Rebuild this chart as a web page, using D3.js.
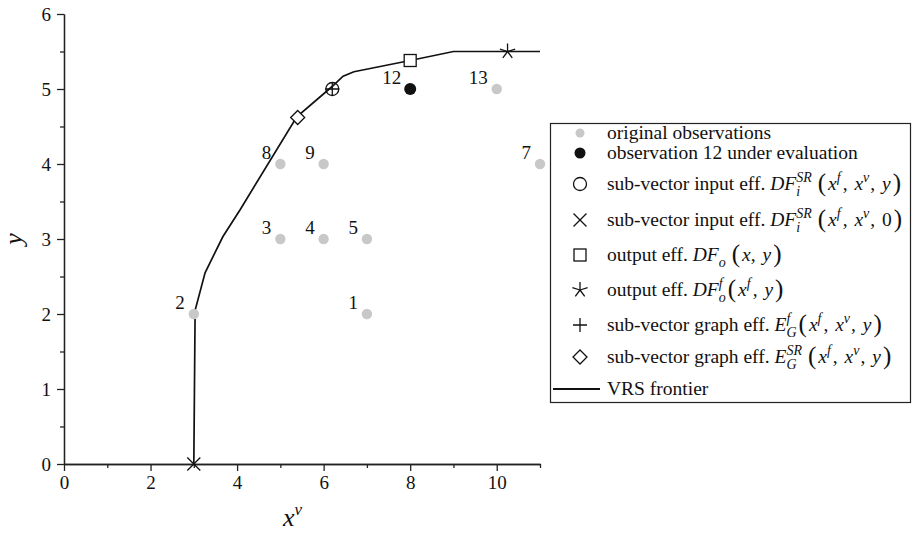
<!DOCTYPE html>
<html><head><meta charset="utf-8">
<script src="https://cdn.jsdelivr.net/npm/d3@7"></script>
<style>
body{margin:0;background:#fff;}
svg text{font-family:"Liberation Serif","Times New Roman",serif !important;fill:#111;white-space:pre;}
</style></head>
<body><svg id="chart" width="913" height="537"></svg>
<script>
// ---- data ----
const obsIds = ['1','2','3','4','5','7','8','9','13'];
const obsX = [7,3,5,6,7,11,5,6,10];
const obsY = [2,2,3,3,3,4,4,4,5];
const evalId = '12', evalX = 8, evalY = 5;
const frontierX = [3,3.03,3.26,3.67,4.07,5.38,6.19,6.45,6.7,8,9,11];
const frontierY = [0,2.05,2.55,3.03,3.39,4.63,5.03,5.17,5.23,5.38,5.5,5.5];
const inputEff = [6.2,5];      // circle
const inputEff0 = [3,0];       // cross
const outputEff = [8,5.38];    // square
const outputEffF = [10.25,5.5];// star
const graphEffF = [6.2,5];     // plus
const graphEffSR = [5.4,4.62]; // diamond
const xTicks = [0,2,4,6,8,10];
const xMinor = [1,3,5,7,9,11];
const yTicks = [0,1,2,3,4,5,6];
const yMinor = [0.5,1.5,2.5,3.5,4.5,5.5];

const svg = d3.select('#chart');
const x = d3.scaleLinear().domain([0,11]).range([64,540]);
const y = d3.scaleLinear().domain([0,6]).range([464,14]);
const fmt = d3.format('d');

// axes
svg.append('g').attr('transform',`translate(0,${y(0)})`)
  .call(d3.axisBottom(x).tickValues(xTicks).tickFormat(fmt).tickSize(7).tickSizeOuter(0).tickPadding(5));
svg.append('g').attr('transform',`translate(0,${y(0)})`)
  .call(d3.axisBottom(x).tickValues(xMinor).tickSize(4).tickSizeOuter(0).tickFormat(''));
svg.append('g').attr('transform',`translate(${x(0)},0)`)
  .call(d3.axisLeft(y).tickValues(yTicks).tickFormat(fmt).tickSize(7).tickSizeOuter(0).tickPadding(6));
svg.append('g').attr('transform',`translate(${x(0)},0)`)
  .call(d3.axisLeft(y).tickValues(yMinor).tickSize(4).tickSizeOuter(0).tickFormat(''));
svg.selectAll('g').attr('font-family',null);
svg.selectAll('.domain, .tick line').attr('stroke','#222').attr('stroke-width',1.3);
svg.selectAll('.tick text').style('font-size','19px').attr('fill','#222');

// axis titles
svg.append('text').attr('x',283).attr('y',526).style('font-size','26px').style('font-style','italic').text('x')
  .append('tspan').attr('dy',-11).style('font-size','17px').text('v');
svg.append('text').attr('transform',`translate(22,${y(3)}) rotate(-90)`).attr('text-anchor','middle')
  .style('font-size','26px').style('font-style','italic').text('y');

// frontier
const line = d3.line().x(d=>x(d[0])).y(d=>y(d[1]));
svg.append('path').datum(frontierX.map((v,i)=>[v,frontierY[i]]))
  .attr('d',line).attr('fill','none').attr('stroke','#111').attr('stroke-width',1.7);

// observations
const obs = obsIds.map((id,i)=>({id,x:obsX[i],y:obsY[i]}));
svg.selectAll('circle.obs').data(obs).enter().append('circle').attr('class','obs')
  .attr('cx',d=>x(d.x)).attr('cy',d=>y(d.y)).attr('r',5.2).attr('fill','#c8c8c8');
svg.selectAll('text.lab').data(obs.concat([{id:evalId,x:evalX,y:evalY}])).enter().append('text').attr('class','lab')
  .attr('x',d=>x(d.x)-9).attr('y',d=>y(d.y)-5).attr('text-anchor','end').style('font-size','19px').text(d=>d.id);
svg.append('circle').attr('cx',x(evalX)).attr('cy',y(evalY)).attr('r',6).attr('fill','#111');

// marker drawers
function mCircle(g,cx,cy){g.append('circle').attr('cx',cx).attr('cy',cy).attr('r',6.5).attr('fill','none').attr('stroke','#111').attr('stroke-width',1.3);}
function mPlus(g,cx,cy){g.append('path').attr('d',`M${cx-7},${cy}H${cx+7}M${cx},${cy-7}V${cy+7}`).attr('stroke','#111').attr('stroke-width',1.3);}
function mCross(g,cx,cy){const s=6.5;g.append('path').attr('d',`M${cx-s},${cy-s}L${cx+s},${cy+s}M${cx-s},${cy+s}L${cx+s},${cy-s}`).attr('stroke','#111').attr('stroke-width',1.3);}
function mSquare(g,cx,cy){g.append('rect').attr('x',cx-6).attr('y',cy-6).attr('width',12).attr('height',12).attr('fill','#fff').attr('stroke','#111').attr('stroke-width',1.3);}
function mDiamond(g,cx,cy){const s=7;g.append('path').attr('d',`M${cx},${cy-s}L${cx+s},${cy}L${cx},${cy+s}L${cx-s},${cy}Z`).attr('fill','#fff').attr('stroke','#111').attr('stroke-width',1.3);}
function mStar(g,cx,cy){const s=8;let d='';for(let k=0;k<5;k++){const a=(-90+72*k)*Math.PI/180;d+=`M${cx},${cy}L${cx+s*Math.cos(a)},${cy+s*Math.sin(a)}`;}
  g.append('path').attr('d',d).attr('stroke','#111').attr('stroke-width',1.3);}

const mk = svg.append('g');
mCircle(mk,x(inputEff[0]),y(inputEff[1]));
mPlus(mk,x(graphEffF[0]),y(graphEffF[1]));
mCross(mk,x(inputEff0[0]),y(inputEff0[1]));
mSquare(mk,x(outputEff[0]),y(outputEff[1]));
mDiamond(mk,x(graphEffSR[0]),y(graphEffSR[1]));
mStar(mk,x(outputEffF[0]),y(outputEffF[1]));

// legend
const lg = svg.append('g');
lg.append('rect').attr('x',550.5).attr('y',123.5).attr('width',360).attr('height',279).attr('fill','#fff').attr('stroke','#222').attr('stroke-width',1.2);
const rowsY = [133,153,184,220,255,290,325,357,389];
const mx = 580, tx = 607;
lg.append('circle').attr('cx',mx).attr('cy',rowsY[0]).attr('r',4.5).attr('fill','#c8c8c8');
lg.append('circle').attr('cx',mx).attr('cy',rowsY[1]).attr('r',5.5).attr('fill','#111');
mCircle(lg,mx,rowsY[2]); mCross(lg,mx,rowsY[3]); mSquare(lg,mx,rowsY[4]); mStar(lg,mx,rowsY[5]); mPlus(lg,mx,rowsY[6]); mDiamond(lg,mx,rowsY[7]);
lg.append('line').attr('x1',553).attr('x2',600).attr('y1',rowsY[8]).attr('y2',rowsY[8]).attr('stroke','#111').attr('stroke-width',1.8);

function rich(g,x0,yc,pieces){
  let cx=x0; const base=yc+6;
  pieces.forEach(p=>{
    if(p.stack){
      let w=0;
      if(p.sup){const t=g.append('text').attr('x',cx).attr('y',base-8).style('font-size','14px').style('font-style','italic').text(p.sup);w=Math.max(w,t.node().getComputedTextLength());}
      if(p.sub){const t=g.append('text').attr('x',cx).attr('y',base+6).style('font-size','14px').style('font-style','italic').text(p.sub);w=Math.max(w,t.node().getComputedTextLength());}
      cx+=w+(p.gap||0);
    } else {
      const t=g.append('text').attr('x',cx).attr('y',base+(p.dy||0)).style('font-size',(p.size||19.5)+'px').style('font-style',p.it?'italic':'normal').text(p.t);
      cx+=t.node().getComputedTextLength()+(p.gap||0);
    }
  });
}
const xf=[{t:'x',it:1},{stack:1,sup:'f',gap:2}], xv=[{t:'x',it:1},{stack:1,sup:'v',gap:1}];
const CM={t:', ',gap:2};
const LP={t:'(',size:25,dy:1,gap:2}, RP={t:')',size:25,dy:1};
const Y={t:'y',it:1,gap:2};
const rowsText = [
  [{t:'original observations'}],
  [{t:'observation 12 under evaluation'}],
  [{t:'sub-vector input eff. '},{t:'DF',it:1},{stack:1,sup:'SR',sub:'i',gap:6},LP,...xf,CM,...xv,CM,Y,RP],
  [{t:'sub-vector input eff. '},{t:'DF',it:1},{stack:1,sup:'SR',sub:'i',gap:6},LP,...xf,CM,...xv,CM,{t:'0',gap:2},RP],
  [{t:'output eff. '},{t:'DF',it:1},{stack:1,sub:'o',gap:6},LP,{t:'x',it:1},CM,Y,RP],
  [{t:'output eff. '},{t:'DF',it:1},{stack:1,sup:'f',sub:'o',gap:2},LP,...xf,CM,Y,RP],
  [{t:'sub-vector graph eff. '},{t:'E',it:1},{stack:1,sup:'f',sub:'G',gap:2},LP,...xf,CM,...xv,CM,Y,RP],
  [{t:'sub-vector graph eff. '},{t:'E',it:1},{stack:1,sup:'SR',sub:'G',gap:6},LP,...xf,CM,...xv,CM,Y,RP],
  [{t:'VRS frontier'}]
];
rowsText.forEach((r,i)=>rich(lg,tx,rowsY[i],r));
</script></body></html>
